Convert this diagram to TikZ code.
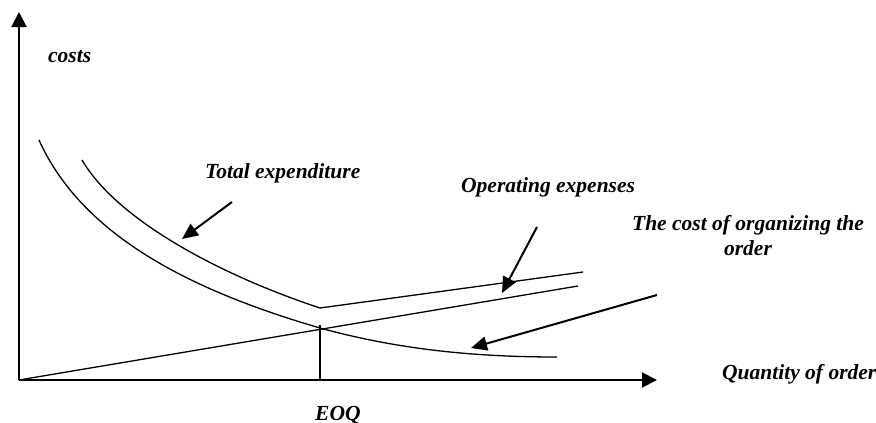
\documentclass[tikz,border=0pt]{standalone}
\usepackage{fontspec}
\setmainfont{Liberation Serif}
\usetikzlibrary{arrows.meta}
\begin{document}
\begin{tikzpicture}[x=1pt,y=-1pt,
  axis/.style={line width=2pt,-{Triangle[length=15pt,width=15pt]}},
  pointer/.style={line width=2pt,-{Triangle[length=16pt,width=14pt]}},
  curve/.style={line width=1.3pt},
  lbl/.style={font=\fontsize{21.5}{25}\selectfont\bfseries\itshape,inner sep=0pt}]
\useasboundingbox (0,0) rectangle (876,423);

% axes
\coordinate (O) at (19,380);
\coordinate (ytip) at (19,12);
\coordinate (xtip) at (657,380);
\draw[axis] (O) -- (ytip);
\draw[axis] (O) -- (xtip);

% key points of the curves
\coordinate (eoqfoot) at (320,380);
\coordinate (eoqtop) at (320,325);
\coordinate (ordA) at (39,140);
\coordinate (ordB) at (320,328);
\coordinate (ordC) at (557,357);
\coordinate (totA) at (82,160);
\coordinate (kink) at (320,308);
\coordinate (totC) at (583,272);
\coordinate (holdC) at (578,286);

% cost of organizing the order (falling curve)
\draw[curve] (ordA) .. controls (84,240) and (200,293) .. (ordB)
                    .. controls (400,350) and (477,357) .. (ordC);
% operating expenses (straight line from the origin)
\draw[curve] (O) -- (holdC);
% total expenditure
\draw[curve] (totA) .. controls (117,220) and (220,275) .. (kink) -- (totC);
% EOQ marker
\draw[curve] (eoqfoot) -- (eoqtop);

% pointers from the labels
\coordinate (p1s) at (232,202);
\coordinate (p1e) at (182,239);
\coordinate (p2s) at (537,227);
\coordinate (p2e) at (502,293);
\coordinate (p3s) at (657,295);
\coordinate (p3e) at (471,348);
\draw[pointer] (p1s) -- (p1e);
\draw[pointer] (p2s) -- (p2e);
\draw[pointer] (p3s) -- (p3e);

% labels
\node[lbl,anchor=base west] (costs) at (48,62) {costs};
\node[lbl,anchor=base west] (total) at (205,178) {Total expenditure};
\node[lbl,anchor=base west] (oper) at (461,192) {Operating expenses};
\node[lbl,anchor=north,align=center] (org) at (748,215) {The cost of organizing the\\order};
\node[lbl,anchor=base west] (qty) at (722,379) {Quantity of order};
\node[lbl,anchor=base west] (eoq) at (315,420) {EOQ};
\end{tikzpicture}
\end{document}
